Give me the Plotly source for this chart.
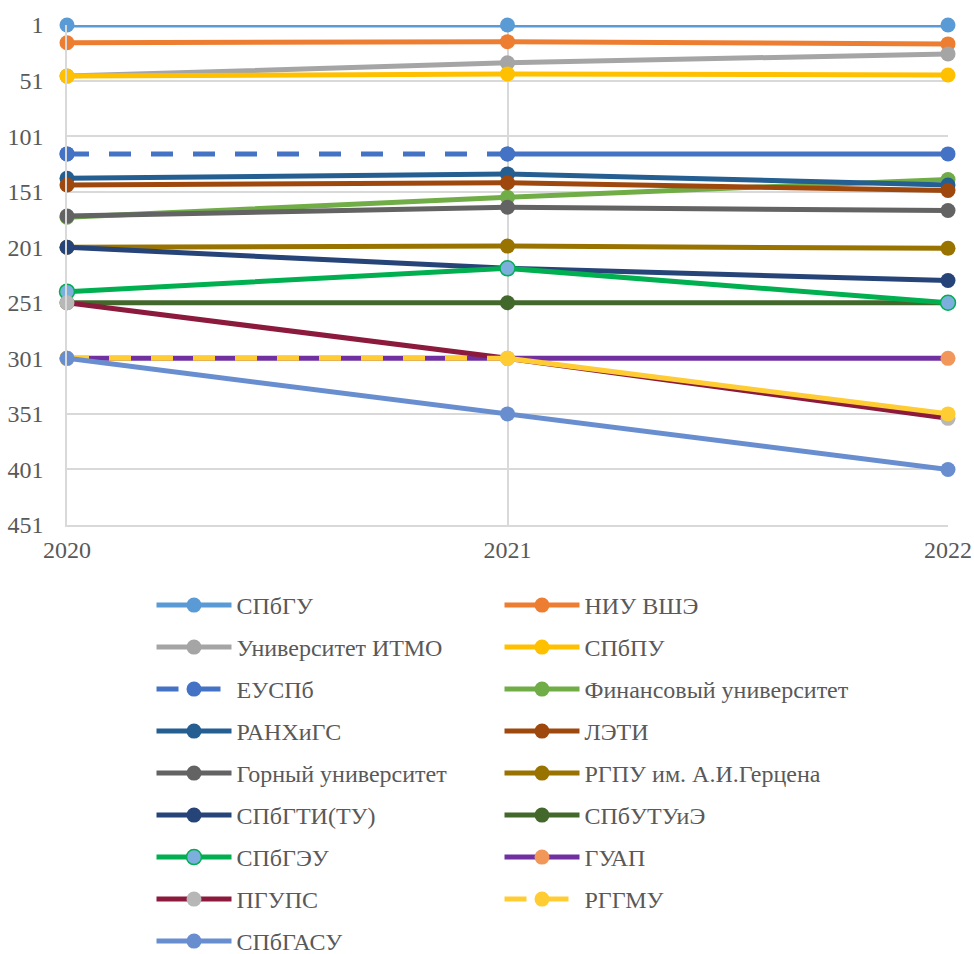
import plotly.graph_objects as go

years = [2020, 2021, 2022]

names = ["СПбГУ", "НИУ ВШЭ", "Университет ИТМО", "СПбПУ", "ЕУСПб",
         "Финансовый университет", "РАНХиГС", "ЛЭТИ", "Горный университет",
         "РГПУ им. А.И.Герцена", "СПбГТИ(ТУ)", "СПбУТУиЭ", "СПбГЭУ", "ГУАП",
         "ПГУПС", "РГГМУ", "СПбГАСУ"]

spbgu = [1, 1, 1]
hse = [17, 16, 18]
itmo = [47, 35, 27]
spbpu = [47, 45, 46]
eu = [117, 117, 117]
fin = [174, 156, 140]
ranepa = [139, 135, 145]
leti = [145, 143, 150]
gorny = [173, 165, 168]
herzen = [201, 200, 202]
spbgti = [201, 220, 231]
spbutuie = [251, 251, 251]
spbgeu = [241, 220, 251]
guap = [301, 301, 301]
pgups = [251, 301, 355]
rshu = [301, 301, 351]
spbgasu = [301, 351, 401]

values = [spbgu, hse, itmo, spbpu, eu, fin, ranepa, leti, gorny, herzen,
          spbgti, spbutuie, spbgeu, guap, pgups, rshu, spbgasu]

line_colors = ["#5B9BD5", "#ED7D31", "#A5A5A5", "#FFC000", "#4472C4",
               "#70AD47", "#255E91", "#9E480E", "#636363", "#997300",
               "#264478", "#43682B", "#00B050", "#7030A0", "#8B1A3D",
               "#FFCD33", "#698ED0"]
marker_colors = ["#5B9BD5", "#ED7D31", "#A5A5A5", "#FFC000", "#4472C4",
                 "#70AD47", "#255E91", "#9E480E", "#636363", "#997300",
                 "#264478", "#43682B", "#7CAFDD", "#F1975A", "#B7B7B7",
                 "#FFCD33", "#698ED0"]
# series whose first segment (2020-2021) is dashed
dashed_first = {"ЕУСПб", "РГГМУ"}

col1 = ["СПбГУ", "Университет ИТМО", "ЕУСПб", "РАНХиГС", "Горный университет",
        "СПбГТИ(ТУ)", "СПбГЭУ", "ПГУПС", "СПбГАСУ"]

FONT = "Liberation Serif"
GREY = "#595959"
LW = 5
MS = 15
DASH = "22px,20px"

fig = go.Figure()
for i, (n, v) in enumerate(zip(names, values)):
    mline = dict(width=0)
    if n == "СПбГЭУ":
        mline = dict(width=1.5, color="#00B050")
    marker = dict(color=marker_colors[i], size=MS, line=mline)
    leg = "legend" if n in col1 else "legend2"
    if n in dashed_first:
        fig.add_trace(go.Scatter(
            x=years[1:], y=v[1:], name=n, mode="lines",
            line=dict(color=line_colors[i], width=LW),
            cliponaxis=False, showlegend=False, legendgroup=n, legend=leg,
        ))
        fig.add_trace(go.Scatter(
            x=years[:2], y=v[:2], name=n, mode="lines+markers",
            line=dict(color=line_colors[i], width=LW, dash=DASH),
            marker=marker, cliponaxis=False, showlegend=True,
            legendgroup=n, legend=leg, legendrank=i,
        ))
        fig.add_trace(go.Scatter(
            x=years, y=v, name=n, mode="markers", marker=marker,
            cliponaxis=False, showlegend=False, legendgroup=n, legend=leg,
        ))
    else:
        fig.add_trace(go.Scatter(
            x=years, y=v, name=n, mode="lines+markers",
            line=dict(color=line_colors[i], width=LW),
            marker=marker, cliponaxis=False, legendgroup=n, legend=leg,
            legendrank=i,
        ))

W, H = 974, 954
PL, PR, PT, PB = 67, 948, 25, 525
ph = PB - PT
pw = PR - PL

legend_common = dict(
    orientation="v", yanchor="top", y=-58 / ph, xanchor="left",
    font=dict(family=FONT, size=24, color=GREY),
    tracegroupgap=7.8, bgcolor="rgba(0,0,0,0)", itemwidth=75,
)

fig.update_layout(
    width=W, height=H,
    margin=dict(l=PL, r=W - PR, t=PT, b=H - PB, autoexpand=False),
    paper_bgcolor="white", plot_bgcolor="white",
    font=dict(family=FONT, size=24, color=GREY),
    showlegend=True,
    legend=dict(x=(151.5 - PL) / pw, **legend_common),
    legend2=dict(x=(499.5 - PL) / pw, **legend_common),
    xaxis=dict(
        range=[2020, 2022], tickvals=years, ticktext=[str(y) for y in years],
        showgrid=True, gridcolor="#D9D9D9", gridwidth=1.5,
        showline=True, linecolor="#D9D9D9", linewidth=1.5,
        zeroline=False, ticks="", ticklabelstandoff=2,
        ticklabeloverflow="allow",
        tickfont=dict(family=FONT, size=24, color=GREY),
    ),
    yaxis=dict(
        range=[451, 1], tick0=1, dtick=50, autorange=False,
        showgrid=True, gridcolor="#D9D9D9", gridwidth=1.5,
        showline=True, linecolor="#D9D9D9", linewidth=1.5,
        zeroline=False, ticks="", ticklabelstandoff=17,
        tickfont=dict(family=FONT, size=24, color=GREY),
    ),
)

fig.write_html(
    "out.html",
    config={"displayModeBar": False},
    post_script="document.body.style.margin='0px';"
                "document.body.style.overflow='hidden';",
)
